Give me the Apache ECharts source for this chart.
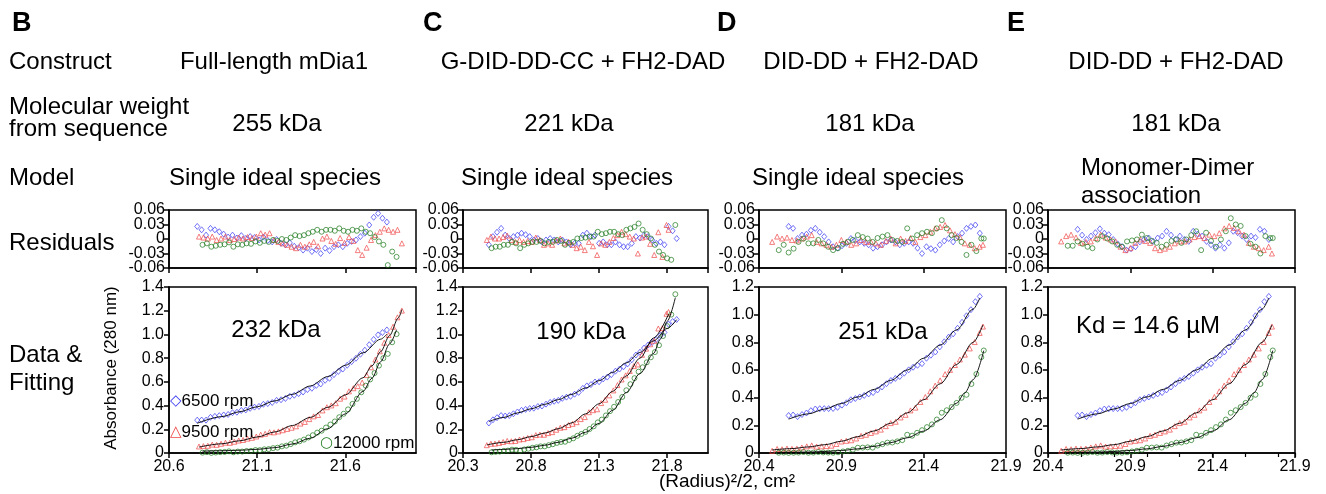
<!DOCTYPE html>
<html><head><meta charset="utf-8">
<script src="https://cdn.jsdelivr.net/npm/echarts@6/dist/echarts.min.js"></script>
<style>html,body{margin:0;padding:0;background:#fff}#c{width:1326px;height:494px}</style>
</head><body><div id="c"></div><script>
// ================= DATA =================
// ---- Panel B: Full-length mDia1 ----
const bBlueX = [20.760,20.785,20.810,20.835,20.860,20.885,20.910,20.935,20.960,20.985,21.010,21.035,21.060,21.085,21.110,21.135,21.160,21.185,21.210,21.235,21.260,21.285,21.310,21.335,21.360,21.385,21.410,21.435,21.460,21.485,21.510,21.535,21.560,21.585,21.610,21.635,21.660,21.685,21.710,21.735,21.760,21.785,21.810,21.835];
const bBlueY = [0.277,0.278,0.277,0.301,0.309,0.315,0.321,0.325,0.340,0.344,0.359,0.363,0.377,0.387,0.393,0.411,0.417,0.426,0.444,0.449,0.460,0.478,0.487,0.501,0.514,0.535,0.546,0.570,0.582,0.613,0.630,0.661,0.688,0.708,0.740,0.770,0.799,0.833,0.867,0.913,0.958,0.996,1.016,1.038];
const bBlueR = [0.026,0.019,0.008,0.022,0.019,0.015,0.010,0.004,0.008,0.002,0.007,0.001,0.005,0.003,-0.002,0.004,-0.003,-0.006,-0.001,-0.009,-0.012,-0.008,-0.015,-0.018,-0.023,-0.019,-0.026,-0.022,-0.030,-0.019,-0.024,-0.016,-0.012,-0.016,-0.009,-0.005,-0.002,0.005,0.012,0.029,0.045,0.053,0.043,0.035];
const bBlueFit = [[20.76,0.251],[20.9,0.307],[21.0,0.348],[21.1,0.39],[21.2,0.44],[21.3,0.495],[21.4,0.565],[21.5,0.645],[21.6,0.74],[21.7,0.845],[21.8,0.96],[21.835,1.003]];
const bRedX = [20.770,20.795,20.820,20.845,20.870,20.895,20.920,20.945,20.970,20.995,21.020,21.045,21.070,21.095,21.120,21.145,21.170,21.195,21.220,21.245,21.270,21.295,21.320,21.345,21.370,21.395,21.420,21.445,21.470,21.495,21.520,21.545,21.570,21.595,21.620,21.645,21.670,21.695,21.720,21.745,21.770,21.795,21.820,21.845,21.870,21.895,21.920];
const bRedY = [0.055,0.058,0.061,0.071,0.069,0.078,0.087,0.086,0.095,0.105,0.110,0.121,0.128,0.139,0.155,0.162,0.176,0.174,0.182,0.192,0.203,0.213,0.225,0.248,0.262,0.286,0.309,0.321,0.359,0.386,0.401,0.420,0.458,0.476,0.520,0.546,0.564,0.594,0.657,0.723,0.788,0.858,0.930,0.995,1.065,1.144,1.201];
const bRedR = [0.005,0.003,0.001,0.005,-0.002,0.001,0.005,-0.002,0.000,0.003,0.001,0.004,0.002,0.005,0.012,0.009,0.012,-0.002,-0.006,-0.009,-0.012,-0.016,-0.019,-0.012,-0.016,-0.011,-0.006,-0.015,0.001,0.005,-0.004,-0.010,0.002,-0.008,0.004,-0.004,-0.023,-0.033,-0.018,-0.002,0.008,0.015,0.022,0.019,0.015,0.019,-0.009];
const bRedFit = [[20.77,0.05],[20.9,0.078],[21.0,0.103],[21.1,0.135],[21.2,0.178],[21.3,0.232],[21.4,0.30],[21.5,0.385],[21.6,0.49],[21.7,0.635],[21.75,0.735],[21.8,0.855],[21.85,0.99],[21.9,1.14],[21.92,1.21]];
const bGreenX = [20.790,20.815,20.840,20.865,20.890,20.915,20.940,20.965,20.990,21.015,21.040,21.065,21.090,21.115,21.140,21.165,21.190,21.215,21.240,21.265,21.290,21.315,21.340,21.365,21.390,21.415,21.440,21.465,21.490,21.515,21.540,21.565,21.590,21.615,21.640,21.665,21.690,21.715,21.740,21.765,21.790,21.815,21.840,21.865,21.890];
const bGreenY = [0.003,0.007,0.001,0.004,0.007,0.009,0.014,0.006,0.012,0.012,0.017,0.018,0.025,0.024,0.031,0.033,0.041,0.045,0.056,0.062,0.075,0.090,0.099,0.113,0.131,0.150,0.172,0.188,0.215,0.240,0.266,0.302,0.331,0.368,0.414,0.457,0.512,0.568,0.620,0.674,0.737,0.800,0.836,0.934,1.003];
const bGreenR = [-0.012,-0.009,-0.016,-0.014,-0.012,-0.011,-0.007,-0.016,-0.011,-0.012,-0.009,-0.010,-0.005,-0.008,-0.004,-0.006,-0.002,-0.004,0.000,-0.002,0.003,0.008,0.006,0.008,0.012,0.015,0.019,0.015,0.019,0.019,0.017,0.022,0.017,0.015,0.019,0.017,0.022,0.015,0.012,0.004,-0.005,-0.012,-0.054,-0.026,-0.037];
const bGreenFit = [[20.79,0.015],[20.9,0.019],[21.0,0.023],[21.1,0.031],[21.2,0.045],[21.3,0.076],[21.4,0.125],[21.5,0.205],[21.6,0.33],[21.7,0.52],[21.75,0.63],[21.8,0.77],[21.85,0.92],[21.89,1.04]];

// ---- Panel C: G-DID-DD-CC + FH2-DAD ----
const cBlueX = [20.490,20.520,20.550,20.580,20.610,20.640,20.670,20.700,20.730,20.760,20.790,20.820,20.850,20.880,20.910,20.940,20.970,21.000,21.030,21.060,21.090,21.120,21.150,21.180,21.210,21.240,21.270,21.300,21.330,21.360,21.390,21.420,21.450,21.480,21.510,21.540,21.570,21.600,21.630,21.660,21.690,21.720,21.750,21.780,21.810,21.840,21.870];
const cBlueY = [0.253,0.280,0.298,0.316,0.312,0.316,0.331,0.346,0.360,0.368,0.375,0.378,0.392,0.396,0.412,0.427,0.436,0.444,0.461,0.471,0.478,0.496,0.511,0.545,0.566,0.577,0.599,0.601,0.625,0.640,0.661,0.690,0.708,0.728,0.752,0.786,0.826,0.850,0.885,0.911,0.933,0.957,0.991,1.017,1.086,1.109,1.126];
const cBlueR = [-0.012,0.005,0.014,0.022,0.008,0.001,0.005,0.008,0.012,0.009,0.005,-0.002,0.001,-0.006,-0.002,0.001,-0.002,-0.006,-0.002,-0.006,-0.012,-0.009,-0.009,0.008,0.012,0.005,0.008,-0.009,-0.006,-0.012,-0.012,-0.006,-0.012,-0.016,-0.016,-0.009,0.005,0.002,0.008,0.005,-0.002,-0.009,-0.006,-0.012,0.026,0.017,0.001];
const cBlueFit = [[20.49,0.265],[20.6,0.30],[20.7,0.338],[20.8,0.373],[20.9,0.41],[21.0,0.45],[21.1,0.495],[21.2,0.548],[21.3,0.61],[21.4,0.68],[21.5,0.76],[21.6,0.848],[21.7,0.945],[21.8,1.05],[21.87,1.125]];
const cRedX = [20.475,20.505,20.535,20.565,20.595,20.625,20.655,20.685,20.715,20.745,20.775,20.805,20.835,20.865,20.895,20.925,20.955,20.985,21.015,21.045,21.075,21.105,21.135,21.165,21.195,21.225,21.255,21.285,21.315,21.345,21.375,21.405,21.435,21.465,21.495,21.525,21.555,21.585,21.615,21.645,21.675,21.705,21.735,21.765,21.795,21.810];
const cRedY = [0.066,0.078,0.079,0.085,0.093,0.102,0.099,0.102,0.114,0.117,0.127,0.133,0.151,0.155,0.154,0.168,0.176,0.196,0.213,0.218,0.236,0.246,0.260,0.286,0.303,0.344,0.361,0.369,0.421,0.449,0.486,0.528,0.573,0.620,0.655,0.692,0.733,0.747,0.828,0.880,0.917,0.946,1.050,1.053,1.174,1.189];
const cRedR = [-0.002,0.005,0.001,0.001,0.004,0.007,-0.002,-0.006,-0.002,-0.006,-0.004,-0.006,0.003,-0.002,-0.012,-0.009,-0.012,-0.003,0.001,-0.009,-0.006,-0.012,-0.019,-0.016,-0.023,-0.006,-0.015,-0.033,-0.009,-0.012,-0.006,0.002,0.008,0.015,0.010,0.005,0.001,-0.030,0.003,0.005,-0.010,-0.033,0.014,-0.037,0.029,0.019];
const cRedFit = [[20.475,0.068],[20.6,0.09],[20.7,0.112],[20.8,0.138],[20.9,0.168],[21.0,0.205],[21.1,0.255],[21.2,0.33],[21.3,0.415],[21.4,0.52],[21.5,0.65],[21.6,0.80],[21.7,0.97],[21.81,1.17]];
const cGreenX = [20.510,20.540,20.570,20.600,20.630,20.660,20.690,20.720,20.750,20.780,20.810,20.840,20.870,20.900,20.930,20.960,20.990,21.020,21.050,21.080,21.110,21.140,21.170,21.200,21.230,21.260,21.290,21.320,21.350,21.380,21.410,21.440,21.470,21.500,21.530,21.560,21.590,21.620,21.650,21.680,21.710,21.740,21.770,21.800,21.830,21.860];
const cGreenY = [0.006,0.010,0.012,0.018,0.020,0.028,0.027,0.020,0.030,0.036,0.044,0.048,0.056,0.056,0.066,0.074,0.085,0.093,0.095,0.110,0.124,0.145,0.161,0.178,0.202,0.225,0.258,0.282,0.317,0.353,0.390,0.430,0.473,0.529,0.580,0.631,0.686,0.723,0.765,0.807,0.851,0.909,0.987,1.070,1.167,1.339];
const cGreenR = [-0.019,-0.016,-0.016,-0.012,-0.012,-0.006,-0.009,-0.019,-0.012,-0.009,-0.006,-0.006,-0.004,-0.009,-0.006,-0.006,-0.002,-0.004,-0.012,-0.008,-0.006,0.001,0.002,0.003,0.005,0.005,0.015,0.010,0.012,0.015,0.015,0.010,0.008,0.019,0.022,0.025,0.032,0.019,0.010,0.001,-0.012,-0.026,-0.033,-0.040,-0.043,0.029];
const cGreenFit = [[20.51,0.025],[20.6,0.03],[20.7,0.037],[20.8,0.048],[20.9,0.065],[21.0,0.09],[21.1,0.125],[21.2,0.175],[21.3,0.25],[21.4,0.36],[21.5,0.51],[21.6,0.67],[21.7,0.84],[21.75,0.96],[21.8,1.11],[21.86,1.31]];

// ---- Panels D and E: DID-DD + FH2-DAD (same data, two models) ----
const deBlueX = [20.580,20.607,20.634,20.661,20.688,20.715,20.742,20.769,20.796,20.823,20.850,20.877,20.904,20.931,20.958,20.985,21.012,21.039,21.066,21.093,21.120,21.147,21.174,21.201,21.228,21.255,21.282,21.309,21.336,21.363,21.390,21.417,21.444,21.471,21.498,21.525,21.552,21.579,21.606,21.633,21.660,21.687,21.714,21.741];
const deBlueY = [0.271,0.275,0.263,0.278,0.289,0.306,0.318,0.320,0.321,0.321,0.322,0.330,0.346,0.363,0.385,0.394,0.405,0.416,0.427,0.437,0.456,0.477,0.501,0.524,0.539,0.553,0.577,0.601,0.620,0.634,0.646,0.685,0.707,0.730,0.767,0.804,0.838,0.861,0.902,0.945,0.992,1.036,1.094,1.132];
const dBlueR = [0.026,0.022,0.001,0.008,0.010,0.018,0.022,0.014,0.005,-0.006,-0.016,-0.019,-0.014,-0.009,0.001,-0.003,-0.006,-0.009,-0.012,-0.019,-0.016,-0.012,-0.006,-0.002,-0.006,-0.012,-0.009,-0.006,-0.009,-0.019,-0.030,-0.016,-0.020,-0.023,-0.012,-0.004,0.001,-0.006,0.005,0.012,0.022,0.026,0.029,0.012];
const eBlueR = [0.020,0.008,-0.001,0.006,0.013,0.021,0.012,0.009,-0.001,-0.010,-0.016,-0.023,-0.020,-0.016,-0.006,-0.001,0.002,-0.005,0.002,0.006,0.016,0.008,-0.001,0.006,-0.001,-0.005,0.016,0.010,0.006,-0.005,-0.012,-0.019,-0.012,-0.019,-0.008,0.016,0.013,0.006,-0.001,0.006,0.003,0.020,0.016,-0.001];
const deBlueFit = [[20.58,0.245],[20.7,0.283],[20.8,0.318],[20.9,0.358],[21.0,0.405],[21.1,0.46],[21.2,0.525],[21.3,0.60],[21.4,0.685],[21.5,0.78],[21.6,0.89],[21.7,1.04],[21.741,1.12]];
const deRedX = [20.48,20.51,20.54,20.57,20.60,20.63,20.66,20.69,20.72,20.75,20.78,20.81,20.84,20.87,20.90,20.93,20.96,20.99,21.02,21.05,21.08,21.11,21.14,21.17,21.20,21.23,21.26,21.29,21.32,21.35,21.38,21.41,21.44,21.47,21.50,21.53,21.56,21.59,21.62,21.65,21.68,21.71,21.74,21.76];
const deRedY = [0.016,0.029,0.027,0.032,0.030,0.032,0.040,0.048,0.055,0.046,0.048,0.050,0.053,0.065,0.083,0.088,0.092,0.105,0.124,0.132,0.145,0.156,0.169,0.194,0.216,0.226,0.257,0.276,0.308,0.328,0.369,0.405,0.446,0.487,0.525,0.570,0.601,0.636,0.676,0.711,0.756,0.802,0.868,0.914];
const dRedR = [-0.006,0.005,0.001,0.003,-0.002,-0.003,0.001,0.005,0.008,-0.006,-0.009,-0.012,-0.016,-0.012,-0.002,-0.006,-0.012,-0.009,-0.002,-0.006,-0.006,-0.009,-0.012,-0.004,0.001,-0.009,0.001,-0.004,0.002,-0.006,0.004,0.008,0.015,0.022,0.025,0.029,0.018,0.010,0.004,-0.009,-0.012,-0.019,-0.016,-0.012];
const eRedR = [-0.005,0.006,0.009,0.003,-0.008,-0.006,-0.005,0.002,0.009,0.003,-0.001,-0.005,-0.016,-0.023,-0.019,-0.008,-0.001,-0.004,-0.008,-0.019,-0.023,-0.020,-0.016,-0.009,-0.005,-0.005,-0.001,0.004,0.006,0.002,0.009,0.006,0.012,0.022,0.027,0.023,0.016,0.009,-0.008,-0.016,-0.019,-0.023,-0.016,-0.030];
const deRedFit = [[20.48,0.022],[20.6,0.032],[20.7,0.044],[20.8,0.06],[20.9,0.085],[21.0,0.118],[21.1,0.16],[21.2,0.215],[21.3,0.29],[21.4,0.385],[21.5,0.50],[21.6,0.64],[21.7,0.80],[21.76,0.926]];
const deGreenX = [20.52,20.55,20.58,20.61,20.64,20.67,20.70,20.73,20.76,20.79,20.82,20.85,20.88,20.91,20.94,20.97,21.00,21.03,21.06,21.09,21.12,21.15,21.18,21.21,21.24,21.27,21.30,21.33,21.36,21.39,21.42,21.45,21.48,21.51,21.54,21.57,21.60,21.63,21.66,21.69,21.72,21.75,21.765];
const deGreenY = [0.002,0.003,0.001,0.002,0.003,0.007,0.002,0.003,0.007,0.004,0.003,0.002,0.005,0.011,0.016,0.024,0.038,0.039,0.041,0.039,0.054,0.064,0.075,0.076,0.084,0.093,0.132,0.125,0.146,0.165,0.187,0.207,0.242,0.291,0.309,0.332,0.362,0.399,0.421,0.499,0.571,0.693,0.741];
const dGreenR = [-0.023,-0.012,-0.028,-0.020,-0.006,0.001,-0.009,-0.009,-0.002,-0.009,-0.016,-0.023,-0.019,-0.010,-0.006,-0.002,0.008,0.004,0.001,-0.006,0.002,0.005,0.008,-0.002,-0.004,-0.006,0.022,0.001,0.008,0.012,0.015,0.012,0.022,0.039,0.022,0.008,0.002,-0.006,-0.033,-0.012,-0.025,0.001,0.001];
const eGreenR = [-0.014,-0.014,-0.005,-0.010,-0.016,-0.019,-0.001,0.006,0.001,-0.005,-0.012,-0.016,-0.005,-0.003,-0.001,0.009,0.002,-0.004,-0.008,-0.016,-0.012,-0.004,-0.001,-0.008,-0.001,0.008,0.016,-0.023,0.013,-0.004,-0.016,-0.001,0.016,0.043,0.030,0.027,0.006,-0.010,-0.016,-0.030,0.006,0.002,0.002];
const deGreenFit = [[20.52,0.004],[20.6,0.005],[20.7,0.007],[20.8,0.011],[20.9,0.018],[21.0,0.03],[21.1,0.048],[21.2,0.075],[21.3,0.11],[21.4,0.158],[21.5,0.24],[21.6,0.36],[21.65,0.435],[21.7,0.53],[21.765,0.74]];

// axis ranges and tick labels
const xRanges = [[20.6, 22.0], [20.3, 22.1], [20.4, 21.9], [20.4, 21.9]];
const yDataMax = [1.4, 1.4, 1.2, 1.2];
const resRange = [-0.06, 0.06];
const resLabelsA = [-0.06, 0, 0.06];
const resLabelsB = [-0.03, 0.03];

// ================= CHART =================
const FONT = "'Liberation Sans', Arial, sans-serif";
const COL = {blue: '#3b3bf2', red: '#f04a4a', green: '#1f7a1f'};
const SYM = {blue: 'diamond', red: 'triangle', green: 'circle'};
const SSZ = {blue: [5, 6], red: [5, 5], green: [5, 5]};
const pts = (xs, ys) => xs.map((x, i) => [x, ys[i]]);
const resFmt = v => Math.abs(v) < 1e-9 ? '0' : v.toFixed(2);

const panels = [
  {left: 169, width: 247, sets: [
    ['blue', bBlueX, bBlueY, bBlueR, bBlueFit], ['red', bRedX, bRedY, bRedR, bRedFit], ['green', bGreenX, bGreenY, bGreenR, bGreenFit]]},
  {left: 463, width: 245, sets: [
    ['blue', cBlueX, cBlueY, cBlueR, cBlueFit], ['red', cRedX, cRedY, cRedR, cRedFit], ['green', cGreenX, cGreenY, cGreenR, cGreenFit]]},
  {left: 759, width: 247, sets: [
    ['blue', deBlueX, deBlueY, dBlueR, deBlueFit], ['red', deRedX, deRedY, dRedR, deRedFit], ['green', deGreenX, deGreenY, dGreenR, deGreenFit]]},
  {left: 1048, width: 247, sets: [
    ['blue', deBlueX, deBlueY, eBlueR, deBlueFit], ['red', deRedX, deRedY, eRedR, deRedFit], ['green', deGreenX, deGreenY, eGreenR, deGreenFit]]}
];

const grid = [], xAxis = [], yAxis = [], series = [], extraY = [];
const axisLine = {show: true, onZero: false, lineStyle: {color: '#000', width: 1.5}};
const axisTick = {show: true, length: 5, lineStyle: {color: '#000', width: 1.5}};
const lbl = {color: '#000', fontSize: 16, fontFamily: FONT, hideOverlap: false};

panels.forEach((p, pi) => {
  const [xmin, xmax] = xRanges[pi];
  const showMax = pi >= 2;
  [['res', 210, 58], ['data', 287, 166]].forEach(([kind, top, h]) => {
    const gi = grid.length;
    grid.push({left: p.left, top: top, width: p.width, height: h, show: true,
      borderColor: '#000', borderWidth: 1.5, backgroundColor: '#fff'});
    xAxis.push({type: 'value', gridIndex: gi, min: xmin, max: xmax, interval: 0.5,
      axisLine, axisTick, splitLine: {show: false},
      axisLabel: Object.assign({}, lbl, {show: kind === 'data', margin: 6, showMaxLabel: showMax, showMinLabel: true})});
    if (kind === 'res') {
      yAxis.push({type: 'value', gridIndex: gi, position: 'left', min: resRange[0], max: resRange[1], interval: 0.03,
        axisLine, axisTick, splitLine: {show: false},
        axisLabel: Object.assign({}, lbl, {margin: 4, customValues: resLabelsA, showMinLabel: true, showMaxLabel: true,
          formatter: resFmt})});
      extraY.push({type: 'value', gridIndex: gi, position: 'left', offset: 0, min: resRange[0], max: resRange[1], interval: 0.03,
        axisLine: {show: false}, axisTick: {show: false}, splitLine: {show: false},
        axisLabel: Object.assign({}, lbl, {margin: 4, customValues: resLabelsB, formatter: resFmt})});
    } else {
      yAxis.push({type: 'value', gridIndex: gi, position: 'left', min: 0, max: yDataMax[pi], interval: 0.2,
        axisLine, axisTick, splitLine: {show: false},
        axisLabel: Object.assign({}, lbl, {margin: 5, showMinLabel: true, showMaxLabel: true,
          formatter: v => Math.abs(v) < 1e-9 ? '0' : v.toFixed(1)})});
    }
    p.sets.forEach(([c, xs, ys, rs, fit]) => {
      const sc = {type: 'scatter', xAxisIndex: gi, yAxisIndex: gi, symbol: SYM[c], symbolSize: SSZ[c],
        itemStyle: {color: 'rgba(255,255,255,0)', borderColor: COL[c], borderWidth: 0.9},
        silent: true, z: 2};
      if (kind === 'res') {
        series.push(Object.assign({data: pts(xs, rs)}, sc));
      } else {
        series.push(Object.assign({data: pts(xs, ys)}, sc));
        series.push({type: 'line', xAxisIndex: gi, yAxisIndex: gi, data: fit, smooth: 0.3, smoothMonotone: 'x',
          showSymbol: false, symbol: 'none', lineStyle: {color: '#000', width: 0.9}, silent: true, z: 4});
      }
    });
  });
});
extraY.forEach(a => yAxis.push(a));
// minor ticks on panel E data axis
xAxis.push({type: 'value', gridIndex: 7, min: 20.4, max: 21.9, interval: 0.2, position: 'bottom',
  axisLine: {show: false}, axisTick: {show: true, length: 4, lineStyle: {color: '#000', width: 1.2}},
  axisLabel: {show: false}, splitLine: {show: false}});

// ================= TEXT =================
const T = (text, x, y, o) => ({type: 'text', x: x, y: y, silent: true, z: 50, rotation: (o && o.rot) || 0,
  style: Object.assign({text: text, fill: '#000', fontFamily: FONT, fontSize: 24,
    align: 'left', verticalAlign: 'middle'}, o && o.s)});
const C = {align: 'center'};
const g = [];
[['B', 12], ['C', 423], ['D', 717], ['E', 1007]].forEach(([t, x]) =>
  g.push(T(t, x, 24, {s: {fontSize: 27, fontWeight: 'bold'}})));
g.push(T('Construct', 9, 62));
g.push(T('Molecular weight', 9, 107));
g.push(T('from sequence', 9, 129));
g.push(T('Model', 9, 178));
g.push(T('Residuals', 9, 243));
g.push(T('Data &', 9, 355));
g.push(T('Fitting', 9, 383));
g.push(T('Full-length mDia1', 274, 62, {s: C}));
g.push(T('G-DID-DD-CC + FH2-DAD', 583, 62, {s: C}));
g.push(T('DID-DD + FH2-DAD', 871, 62, {s: C}));
g.push(T('DID-DD + FH2-DAD', 1176, 62, {s: C}));
g.push(T('255 kDa', 277, 124, {s: C}));
g.push(T('221 kDa', 569, 124, {s: C}));
g.push(T('181 kDa', 870, 124, {s: C}));
g.push(T('181 kDa', 1176, 124, {s: C}));
g.push(T('Single ideal species', 275, 178, {s: C}));
g.push(T('Single ideal species', 567, 178, {s: C}));
g.push(T('Single ideal species', 858, 178, {s: C}));
g.push(T('Monomer-Dimer', 1081, 168));
g.push(T('association', 1081, 196));
g.push(T('232 kDa', 276, 330, {s: {align: 'center', fontSize: 24}}));
g.push(T('190 kDa', 581, 332, {s: {align: 'center', fontSize: 24}}));
g.push(T('251 kDa', 883, 332, {s: {align: 'center', fontSize: 24}}));
g.push(T('Kd = 14.6 µM', 1148, 326, {s: {align: 'center', fontSize: 24}}));
g.push(T('Absorbance (280 nm)', 111, 368, {rot: Math.PI / 2, s: {align: 'center', fontSize: 17}}));
g.push(T('(Radius)²/2, cm²', 727, 482, {s: {align: 'center', fontSize: 19}}));
const legRich = col => ({rich: {m: {fill: col, fontSize: 15, fontFamily: 'DejaVu Sans'}}});
g.push(T('{m|◇}6500 rpm', 170, 401, {s: Object.assign({fontSize: 17}, legRich(COL.blue))}));
g.push(T('{m|△}9500 rpm', 170, 432, {s: Object.assign({fontSize: 17}, legRich(COL.red))}));
g.push(T('{m|○}12000 rpm', 320, 443, {s: Object.assign({fontSize: 17}, legRich(COL.green))}));

const chart = echarts.init(document.getElementById('c'), null, {renderer: 'canvas'});
chart.setOption({animation: false, backgroundColor: '#fff', grid, xAxis, yAxis, series, graphic: g});
</script></body></html>
